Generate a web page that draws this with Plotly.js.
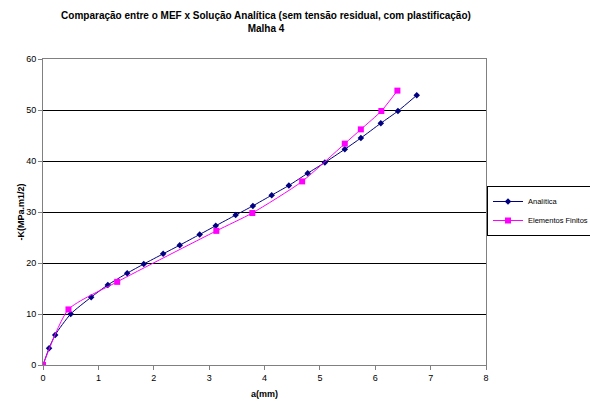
<!DOCTYPE html>
<html>
<head>
<meta charset="utf-8">
<script src="https://cdn.plot.ly/plotly-3.0.1.min.js"></script>
<style>html,body{margin:0;padding:0;background:#fff;}#chart{width:590px;height:403px;}</style>
</head>
<body>
<div id="chart"></div>
<script>
var analiticaX = [0, 0.11, 0.22, 0.5, 0.87, 1.17, 1.52, 1.82, 2.17, 2.47, 2.83, 3.12, 3.48, 3.79, 4.13, 4.44, 4.78, 5.09, 5.45, 5.74, 6.1, 6.41, 6.75];
var analiticaY = [0, 3.3, 5.9, 10.0, 13.3, 15.7, 18.0, 19.8, 21.8, 23.5, 25.6, 27.3, 29.4, 31.2, 33.3, 35.2, 37.6, 39.7, 42.3, 44.5, 47.4, 49.8, 52.9];
var elementosX = [0, 0.46, 1.34, 3.13, 3.78, 4.68, 5.45, 5.74, 6.11, 6.4];
var elementosY = [0, 10.9, 16.3, 26.3, 29.8, 36.0, 43.4, 46.2, 49.8, 53.8];
var xTicks = [0, 1, 2, 3, 4, 5, 6, 7, 8];
var yTicks = [0, 10, 20, 30, 40, 50, 60];

var traces = [
  {x: analiticaX, y: analiticaY, name: 'Analítica', type: 'scatter', mode: 'lines+markers',
   line: {color: '#000080', width: 1, shape: 'spline', smoothing: 0.6},
   marker: {symbol: 'diamond', color: '#000080', size: 5}},
  {x: elementosX, y: elementosY, name: 'Elementos Finitos', type: 'scatter', mode: 'lines+markers',
   line: {color: '#FF00FF', width: 1, shape: 'spline', smoothing: 0.6},
   marker: {symbol: 'square', color: '#FF00FF', size: 6}}
];

var layout = {
  width: 590, height: 403,
  margin: {l: 43, r: 104, t: 59, b: 38},
  paper_bgcolor: '#fff', plot_bgcolor: '#fff',
  font: {family: 'Liberation Sans, Arial, sans-serif', size: 9, color: '#000'},
  title: {text: '<b>Comparação entre o MEF x Solução Analítica (sem tensão residual, com plastificação)<br>Malha 4</b>',
          x: 266/590, xanchor: 'center', xref: 'container', yref: 'container', y: 0.952, yanchor: 'middle',
          font: {size: 10, family: 'Liberation Sans, Arial, sans-serif', color: '#000'}},
  xaxis: {range: [0, 8], tickvals: xTicks, ticktext: xTicks.map(String), showgrid: false, zeroline: false,
          showline: true, linecolor: '#808080', linewidth: 1, mirror: true,
          ticks: 'outside', ticklen: 4, tickcolor: '#808080',
          title: {text: '<b>a(mm)</b>', font: {size: 9}, standoff: 8}},
  yaxis: {range: [0, 60], tickvals: yTicks, ticktext: yTicks.map(String), showgrid: true, gridcolor: '#000', gridwidth: 1,
          zeroline: false, showline: true, linecolor: '#808080', linewidth: 1, mirror: true,
          ticks: 'outside', ticklen: 4, tickcolor: '#808080',
          title: {text: '<b>-K(MPa.m1/2)</b>', font: {size: 9}, standoff: 0}},
  legend: {xref: 'container', yref: 'container', x: 487/590, xanchor: 'left', y: 1 - 211/403, yanchor: 'middle', bgcolor: '#fff',
           bordercolor: '#000', borderwidth: 1, font: {size: 7.5}, tracegroupgap: 0, itemwidth: 30},
  showlegend: true
};
Plotly.newPlot('chart', traces, layout, {displayModeBar: false, staticPlot: true});
</script>
</body>
</html>
